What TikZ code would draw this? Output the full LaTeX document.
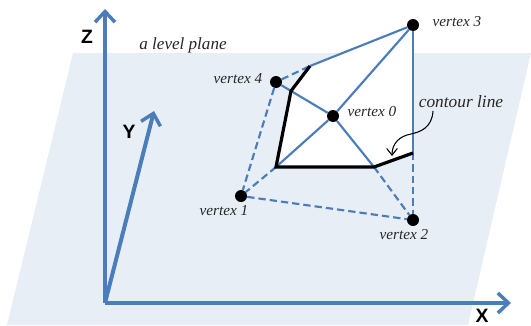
\documentclass[tikz,border=0pt]{standalone}
\usepackage{fontspec}
\setmainfont{Liberation Serif}
\setsansfont{Liberation Sans}
\usepackage{xcolor}
\usetikzlibrary{arrows.meta}
\definecolor{axisblue}{HTML}{4A7DBA}
\definecolor{planeblue}{HTML}{E8EEF6}
\tikzset{
    vertexdot/.style={circle,fill=black,inner sep=0pt,minimum size=9pt},
    vertexlabel/.style={font=\fontsize{11.4}{13}\selectfont\itshape,text=black!85,inner sep=0pt},
    axislabel/.style={font=\fontsize{14.5}{16}\selectfont\sffamily\bfseries,inner sep=0pt},
    axisline/.style={axisblue,line width=3pt,-{Straight Barb[length=8pt,width=15pt,line width=2.6pt]}},
    meshline/.style={axisblue,line width=1.6pt},
    meshdash/.style={axisblue,line width=1.6pt,dash pattern=on 5.5pt off 3pt},
    contourline/.style={black,line width=2.4pt,line join=miter}
}
\begin{document}
\begin{tikzpicture}[x=0.75pt,y=-0.75pt]
    \useasboundingbox (0,0) rectangle (531,325);

    % level plane
    \fill[planeblue] (73,53) -- (531,53) -- (468,325) -- (7,325) -- cycle;

    % contour corners
    \coordinate (c1) at (310,66);
    \coordinate (c2) at (291,91);
    \coordinate (c3) at (276,167);
    \coordinate (c4) at (374,167);
    \coordinate (c5) at (413,153);

    % part of the mesh above the plane
    \fill[white] (c1) -- (413,25) -- (c5) -- (c4) -- (c3) -- (c2) -- cycle;

    % vertices
    \node[vertexdot] (v0) at (333,116) {};
    \node[vertexdot] (v1) at (241,196) {};
    \node[vertexdot] (v2) at (413,220) {};
    \node[vertexdot] (v3) at (413,25) {};
    \node[vertexdot] (v4) at (276,82) {};

    % mesh above the plane
    \draw[meshline] (c1) -- (v3);
    \draw[meshline] (v3) -- (c5);
    \draw[meshline] (v3) -- (v0);
    \draw[meshline] (v4) -- (v0);
    \draw[meshline] (v0) -- (c3);
    \draw[meshline] (v0) -- (c4);

    % mesh below the plane
    \draw[meshdash] (v4) -- (c1);
    \draw[meshdash] (v4) -- (v1);
    \draw[meshdash] (c3) -- (v1);
    \draw[meshdash] (v1) -- (v2);
    \draw[meshdash] (c4) -- (v2);
    \draw[meshdash] (c5) -- (v2);

    % contour
    \draw[contourline] (c1) -- (c2) -- (c3) -- (c4) -- (c5);

    % axes
    \coordinate (origin) at (105,303);
    \coordinate (zend) at (105,9);
    \coordinate (yend) at (154,111);
    \coordinate (xend) at (511,303);
    \draw[axisline] (origin) -- (zend);
    \draw[axisline] (origin) -- (yend);
    \draw[axisline] (origin) -- (xend);
    \node[axislabel] (zlabel) at (87,37) {Z};
    \node[axislabel] (ylabel) at (129,132) {Y};
    \node[axislabel] (xlabel) at (482,316) {X};

    % labels
    \node[vertexlabel,font=\fontsize{12.8}{14}\selectfont\itshape] (planelabel) at (183,45) {a level plane};
    \node[vertexlabel] (l0) at (372,112) {vertex 0};
    \node[vertexlabel] (l1) at (224,211) {vertex 1};
    \node[vertexlabel] (l2) at (404,235) {vertex 2};
    \node[vertexlabel] (l3) at (457,22) {vertex 3};
    \node[vertexlabel] (l4) at (238,79) {vertex 4};
    \node[vertexlabel,font=\fontsize{13}{15}\selectfont\itshape] (contourlabel) at (461,102) {contour line};

    % callout
    \coordinate (ctail) at (433,111);
    \coordinate (chead) at (392,156);
    \draw[black,line width=0.8pt,-{Straight Barb[length=5pt,width=8pt]}] (ctail)
        .. controls (432,128) and (420,132) .. (411,134)
        .. controls (400,136) and (392,143) .. (chead);
\end{tikzpicture}
\end{document}
